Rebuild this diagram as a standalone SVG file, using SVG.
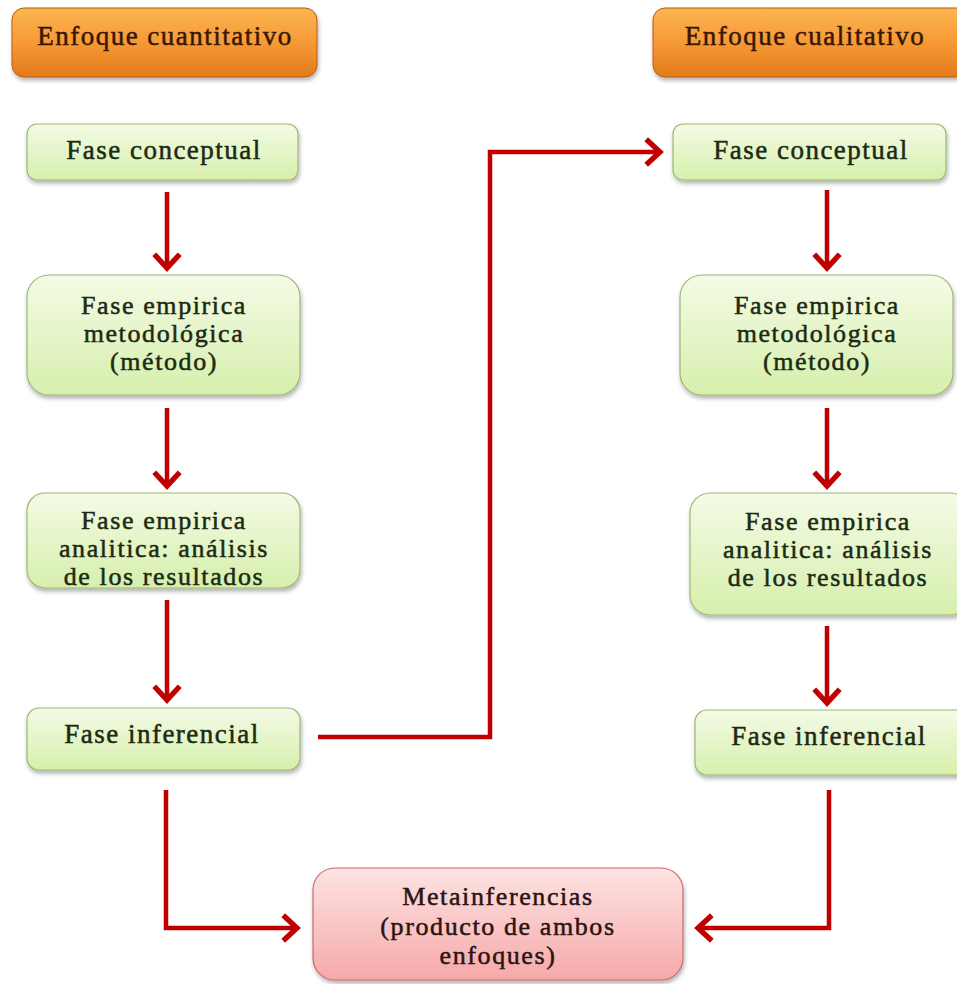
<svg xmlns="http://www.w3.org/2000/svg" width="957" height="984" viewBox="0 0 957 984">
<defs>
<linearGradient id="gOrange" x1="0" y1="0" x2="0" y2="1">
<stop offset="0" stop-color="#fcb551"/><stop offset="0.5" stop-color="#f59a35"/><stop offset="1" stop-color="#e47a1c"/>
</linearGradient>
<linearGradient id="gGreen" x1="0" y1="0" x2="0" y2="1">
<stop offset="0" stop-color="#f4fbe6"/><stop offset="1" stop-color="#d6efac"/>
</linearGradient>
<linearGradient id="gPink" x1="0" y1="0" x2="0" y2="1">
<stop offset="0" stop-color="#fde3e3"/><stop offset="1" stop-color="#f6a9a9"/>
</linearGradient>
<filter id="sh" x="-10%" y="-10%" width="120%" height="130%">
<feDropShadow dx="1" dy="3" stdDeviation="2" flood-color="#000" flood-opacity="0.3"/>
</filter>
<marker id="arr" markerUnits="userSpaceOnUse" markerWidth="34" markerHeight="34" viewBox="-18 -16 22 32" refX="0" refY="0" orient="auto">
<polyline points="-13,-12 0,0 -13,12" fill="none" stroke="#c00000" stroke-width="5" stroke-linejoin="miter"/>
</marker>
</defs>
<style>
.orange{fill:url(#gOrange);stroke:#b85a10;stroke-width:1;filter:url(#sh)}
.green{fill:url(#gGreen);stroke:#9cb870;stroke-width:1.2;filter:url(#sh)}
.pink{fill:url(#gPink);stroke:#c86a6a;stroke-width:1.2;filter:url(#sh)}
.t{font-family:'Liberation Serif','Times New Roman',serif;font-size:26px;text-anchor:middle;letter-spacing:1.6px;stroke-width:0.5px}
.big{font-size:27px;letter-spacing:1.5px}
.to{fill:#3a1606;stroke:#3a1606}
.tg{fill:#1c2a12;stroke:#1c2a12}
.tp{fill:#2a1414;stroke:#2a1414}
.conn{fill:none;stroke:#c00000;stroke-width:4.5;stroke-linejoin:miter}
</style>
<rect width="957" height="984" fill="#ffffff"/>
<g id="n-cuant">
<rect class="orange" x="12" y="8" width="305" height="69" rx="12"/>
<text class="t big to" x="165" y="45">Enfoque cuantitativo</text>
</g>
<g id="n-cual">
<rect class="orange" x="653" y="8" width="318" height="69" rx="12"/>
<text class="t big to" x="805" y="45">Enfoque cualitativo</text>
</g>
<g id="n-l1">
<rect class="green" x="27" y="124" width="271" height="56" rx="10"/>
<text class="t big tg" x="164" y="159">Fase conceptual</text>
</g>
<g id="n-l2">
<rect class="green" x="27" y="275" width="273" height="120" rx="22"/>
<text class="t tg" x="164" y="314">Fase empirica</text>
<text class="t tg" x="164" y="342">metodológica</text>
<text class="t tg" x="164" y="370">(método)</text>
</g>
<g id="n-l3">
<rect class="green" x="27" y="493" width="273" height="95" rx="18"/>
<text class="t tg" x="164" y="529">Fase empirica</text>
<text class="t tg" x="164" y="557">analitica:  análisis</text>
<text class="t tg" x="164" y="585">de los resultados</text>
</g>
<g id="n-l4">
<rect class="green" x="27" y="708" width="273" height="62" rx="12"/>
<text class="t big tg" x="162" y="743">Fase inferencial</text>
</g>
<g id="n-r1">
<rect class="green" x="673" y="124" width="273" height="56" rx="10"/>
<text class="t big tg" x="811" y="159">Fase conceptual</text>
</g>
<g id="n-r2">
<rect class="green" x="680" y="275" width="273" height="120" rx="22"/>
<text class="t tg" x="817" y="314">Fase empirica</text>
<text class="t tg" x="817" y="342">metodológica</text>
<text class="t tg" x="817" y="370">(método)</text>
</g>
<g id="n-r3">
<rect class="green" x="690" y="493" width="280" height="122" rx="20"/>
<text class="t tg" x="828" y="530">Fase empirica</text>
<text class="t tg" x="828" y="558">analitica:  análisis</text>
<text class="t tg" x="828" y="586">de los resultados</text>
</g>
<g id="n-r4">
<rect class="green" x="695" y="710" width="275" height="65" rx="12"/>
<text class="t big tg" x="829" y="745">Fase inferencial</text>
</g>
<g id="n-meta">
<rect class="pink" x="313" y="868" width="370" height="112" rx="22"/>
<text class="t tp" x="498" y="905">Metainferencias</text>
<text class="t tp" x="498" y="935">(producto de ambos</text>
<text class="t tp" x="498" y="964">enfoques)</text>
</g>
<g id="connectors">
<line class="conn" x1="167" y1="192" x2="167" y2="268" marker-end="url(#arr)"/>
<line class="conn" x1="167" y1="408" x2="167" y2="486" marker-end="url(#arr)"/>
<line class="conn" x1="167" y1="600" x2="167" y2="700" marker-end="url(#arr)"/>
<line class="conn" x1="827" y1="190" x2="827" y2="268" marker-end="url(#arr)"/>
<line class="conn" x1="827" y1="408" x2="827" y2="486" marker-end="url(#arr)"/>
<line class="conn" x1="827" y1="626" x2="827" y2="703" marker-end="url(#arr)"/>
<polyline class="conn" points="318,737 490,737 490,152 660,152" marker-end="url(#arr)"/>
<polyline class="conn" points="166,790 166,928 297,928" marker-end="url(#arr)"/>
<polyline class="conn" points="829,790 829,928 698,928" marker-end="url(#arr)"/>
</g>
</svg>
